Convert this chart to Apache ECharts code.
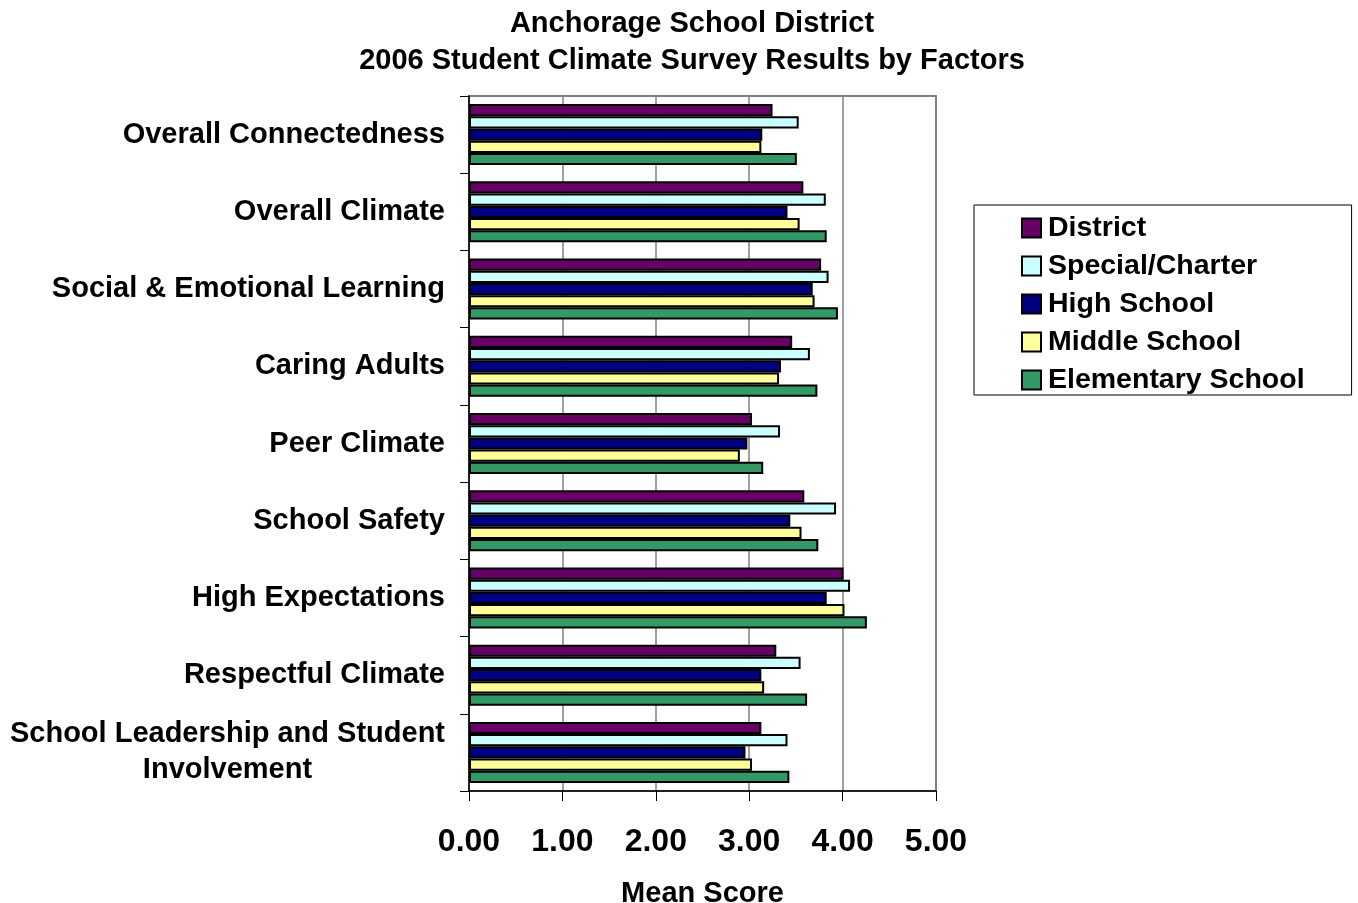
<!DOCTYPE html>
<html>
<head>
<meta charset="utf-8">
<title>Student Climate Survey 2006</title>
<script src="https://cdn.jsdelivr.net/npm/echarts@6/dist/echarts.min.js"></script>
<style>
  html, body { margin: 0; padding: 0; background: #fff; }
  #chart { width: 1358px; height: 903px; }
</style>
</head>
<body>
<div id="chart"></div>
<script>
// factors, top to bottom
const categories = [
  'Overall Connectedness',
  'Overall Climate',
  'Social & Emotional Learning',
  'Caring Adults',
  'Peer Climate',
  'School Safety',
  'High Expectations',
  'Respectful Climate',
  'School Leadership and Student\nInvolvement'
];

const seriesNames = ['District', 'Special/Charter', 'High School', 'Middle School', 'Elementary School'];

// mean scores
const district   = [3.25, 3.58, 3.77, 3.46, 3.03, 3.59, 4.01, 3.29, 3.13];
const special    = [3.53, 3.82, 3.85, 3.65, 3.33, 3.93, 4.08, 3.55, 3.41];
const highSchool = [3.14, 3.41, 3.68, 3.34, 2.98, 3.44, 3.83, 3.13, 2.96];
const middle     = [3.13, 3.54, 3.70, 3.32, 2.90, 3.56, 4.02, 3.16, 3.03];
const elementary = [3.51, 3.83, 3.95, 3.73, 3.15, 3.74, 4.26, 3.62, 3.43];

const xTicks = [0, 1, 2, 3, 4, 5];

const colors = ['#660066', '#CCFFFF', '#000080', '#FFFF99', '#339966'];
const font = "'Liberation Sans', Arial, sans-serif";

const chart = echarts.init(document.getElementById('chart'));

const values = [district, special, highSchool, middle, elementary];
const series = values.map((data, i) => ({
  name: seriesNames[i],
  type: 'bar',
  data: data,
  barGap: '0%',
  barCategoryGap: '21%',
  itemStyle: { color: colors[i], borderColor: '#000', borderWidth: 2 }
}));

chart.setOption({
  animation: false,
  backgroundColor: '#fff',
  textStyle: { fontFamily: font },
  title: {
    text: 'Anchorage School District\n2006 Student Climate Survey Results by Factors',
    left: 692,
    top: 5,
    padding: 0,
    textAlign: 'center',
    textStyle: {
      fontFamily: font,
      fontSize: 29,
      fontWeight: 'bold',
      color: '#000',
      lineHeight: 37
    }
  },
  legend: {
    orient: 'vertical',
    left: 974,
    top: 205,
    padding: [8, 47, 0, 47],
    itemWidth: 19,
    itemHeight: 19,
    itemGap: 8,
    icon: 'rect',
    borderColor: '#000',
    borderWidth: 1,
    textStyle: {
      fontFamily: font,
      fontSize: 28.5,
      fontWeight: 'bold',
      color: '#000',
      lineHeight: 30,
      padding: [0, 0, 0, 2]
    },
    data: seriesNames
  },
  grid: {
    show: true,
    left: 469,
    top: 96,
    width: 467,
    height: 695,
    borderColor: '#808080',
    borderWidth: 2,
    containLabel: false,
    outerBoundsMode: 'none'
  },
  xAxis: {
    type: 'value',
    min: xTicks[0],
    max: xTicks[xTicks.length - 1],
    interval: 1,
    name: 'Mean Score',
    nameLocation: 'middle',
    nameGap: 88,
    nameTextStyle: { fontFamily: font, fontSize: 29, fontWeight: 'bold', color: '#000' },
    axisLine: { show: true, lineStyle: { color: '#000', width: 1.5 } },
    axisTick: { show: true, length: 10, lineStyle: { color: '#000' } },
    axisLabel: {
      margin: 35,
      fontFamily: font,
      fontSize: 32,
      fontWeight: 'bold',
      color: '#000',
      formatter: v => v.toFixed(2)
    },
    splitLine: { show: true, lineStyle: { color: '#808080', width: 1.5 } }
  },
  yAxis: {
    type: 'category',
    inverse: true,
    data: categories,
    axisLine: { show: true, lineStyle: { color: '#000', width: 1.5 } },
    axisTick: { show: true, length: 9, alignWithLabel: false, lineStyle: { color: '#000' } },
    axisLabel: {
      margin: 24,
      color: '#000',
      formatter: v => v.split('\n').map(s => '{c|' + s + '}').join('\n'),
      rich: {
        c: {
          align: 'center',
          fontFamily: font,
          fontSize: 29,
          fontWeight: 'bold',
          color: '#000',
          lineHeight: 36
        }
      }
    },
    splitLine: { show: false }
  },
  series: series
});
</script>
</body>
</html>
